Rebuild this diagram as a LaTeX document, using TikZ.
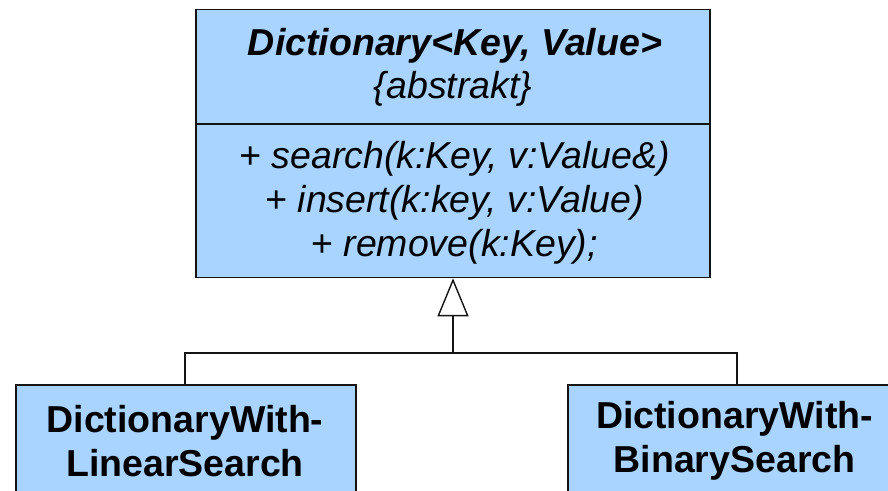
\documentclass[tikz,border=0pt]{standalone}
\usepackage{fontspec}
\setmainfont{Liberation Sans}
\usetikzlibrary{arrows.meta}
\definecolor{classfill}{RGB}{168,212,255}
\definecolor{edge}{RGB}{20,20,20}
\tikzset{
  classbox/.style={draw=edge, fill=classfill, line width=1.6pt, rectangle, inner sep=0pt},
  txt/.style={inner sep=0pt, align=center, text=black},
  big/.style={font=\fontsize{37.5}{44}\selectfont},
  bigbold/.style={font=\fontsize{37.5}{44}\selectfont\bfseries},
  link/.style={draw=edge, line width=1.4pt},
  inherit/.style={-{Triangle[open, width=31pt, length=38pt, line width=1.4pt]}}
}
\begin{document}
\begin{tikzpicture}[x=1pt, y=-1pt]
\clip (0,0) rectangle (888,490);
\fill[white] (0,0) rectangle (888,490);

% abstract base class
\node[classbox, minimum width=514pt, minimum height=268pt] (dict) at (453,143.5) {};
\draw[edge, line width=1.4pt] (dict.west |- 0,124) coordinate (divL) -- (dict.east |- 0,124) coordinate (divR);
\node[txt, bigbold] (title) at (455,46) {\itshape Dictionary<Key, Value>};
\node[txt, big] (stereo) at (453,89) {\itshape \{abstrakt\}};
\node[txt, big] (ops) at (454.5,203)
  {+ \textit{search(k:Key, v:Value\&)}\\+ \textit{insert(k:key, v:Value)}\\+ \textit{remove(k:Key);}};

% concrete subclasses
\node[classbox, minimum width=340pt, minimum height=200pt, anchor=north west] (linear) at (15,384) {};
\node[classbox, minimum width=340pt, minimum height=200pt, anchor=north west] (binary) at (567,384) {};
\node[txt, bigbold] (linlabel) at (185,441)
  {DictionaryWith-\\LinearSearch};
\node[txt, bigbold] (binlabel) at (734.5,441)
  {DictionaryWith-\\BinarySearch};

% generalisation connectors
\coordinate (join) at (453,353);
\coordinate (joinL) at (185,353);
\coordinate (joinR) at (737,353);
\draw[link] (linear.north -| joinL) -- (joinL) -- (joinR) -- (binary.north -| joinR);
\draw[link, inherit] (join) -- (dict.south);
\end{tikzpicture}
\end{document}
